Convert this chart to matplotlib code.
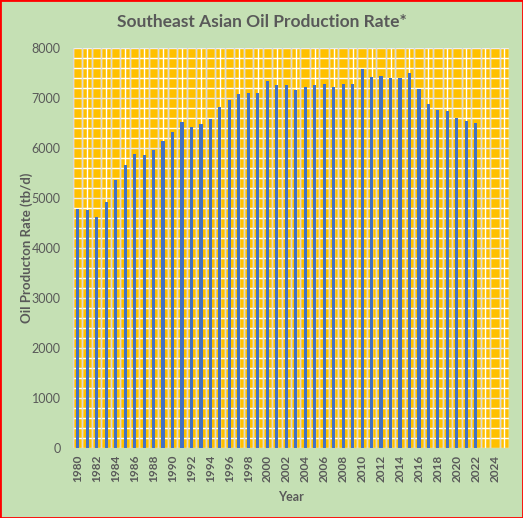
import matplotlib.pyplot as plt
from matplotlib.patches import Rectangle
import numpy as np

years = list(range(1980, 2026))
production = [4780, 4760, 4620, 4920, 5360, 5660, 5880, 5860, 5960, 6140,
              6320, 6520, 6420, 6480, 6580, 6820, 6970, 7080, 7100, 7100,
              7340, 7260, 7260, 7170, 7230, 7260, 7280, 7230, 7280, 7280,
              7580, 7420, 7440, 7400, 7400, 7500, 7180, 6880, 6760, 6740,
              6600, 6540, 6500]
tick_years = years[::2]

text_col = '#595959'
plt.rcParams['font.family'] = ['Lato', 'DejaVu Sans']

fig = plt.figure(figsize=(5.23, 5.18), dpi=100, facecolor='#C5E0B4')
ax = fig.add_axes([73 / 523, 70 / 518, 436 / 523, 400 / 518])
ax.set_facecolor('#FFC000')

x = np.arange(len(years))
ax.bar(x[:len(production)], production, width=0.33, color='#4472C4', zorder=3)

ax.set_xlim(-0.5, len(years) - 0.5)
ax.set_ylim(0, 8000)
ax.set_yticks(range(0, 8001, 1000))
ax.set_yticks(range(0, 8001, 200), minor=True)
ax.set_xticks(x[::2])
ax.set_xticklabels(tick_years, rotation=90, fontweight='bold', fontsize=8.5, color=text_col)
ax.set_xticks(np.arange(-0.5, len(years), 0.5), minor=True)
ax.tick_params(axis='y', labelsize=9, labelcolor=text_col, length=0, which='both', pad=9)
ax.tick_params(axis='x', length=0, which='both', pad=5)

ax.grid(True, which='minor', color='white', linewidth=1.0, zorder=1)
ax.grid(True, which='major', axis='y', color='#EDEDED', linewidth=1.0, zorder=1)
for xb in np.arange(-0.5, len(years), 1.0):
    ax.axvline(xb, color='#D9D9D9', linewidth=1.0, zorder=1)
ax.set_axisbelow(True)
for s in ax.spines.values():
    s.set_visible(False)

ax.set_xlabel('Year', fontsize=9, fontweight='bold', color=text_col, labelpad=6)
ax.set_ylabel('Oil Producton Rate (tb/d)', fontsize=9.5, fontweight='bold', color=text_col)
ax.yaxis.set_label_coords(-40 / 436, 0.5)
fig.text(0.5, 0.957, 'Southeast Asian Oil Production Rate*', ha='center', va='center',
         fontsize=12.5, fontweight='bold', color=text_col)

fig.patches.append(Rectangle((0, 0), 1, 1, transform=fig.transFigure, fill=False,
                             edgecolor='red', linewidth=2))

fig.savefig('out.png', dpi=100, facecolor=fig.get_facecolor())
